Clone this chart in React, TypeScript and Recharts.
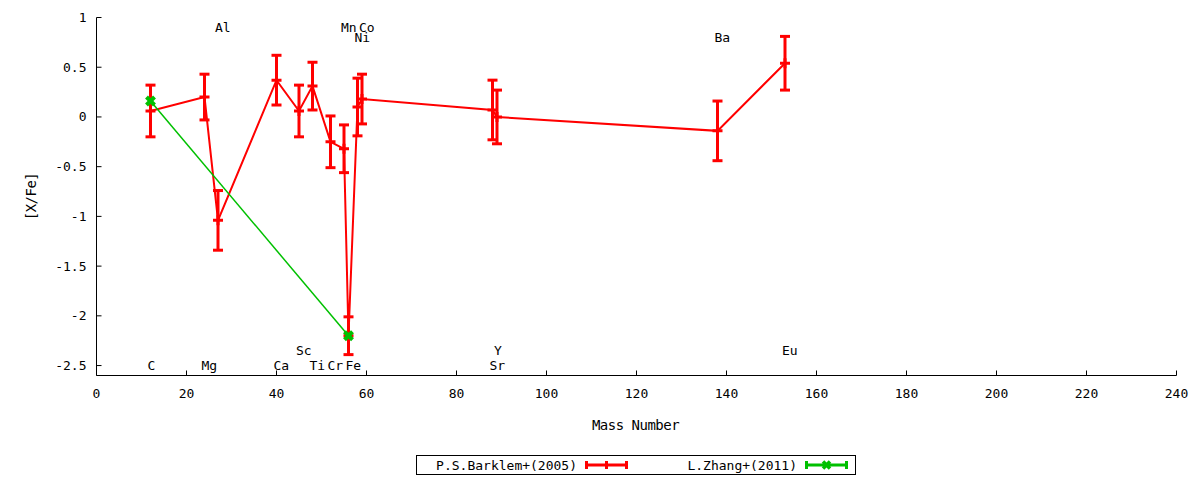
import React from 'react';
import { LineChart, Line, XAxis, YAxis, ErrorBar, Scatter, Legend } from 'recharts';

// Barklem et al. (2005), by mass number
const elements = ['C', 'Mg', 'Al', 'Ca', 'Sc', 'Ti', 'Cr', 'Mn', 'Fe', 'Ni', 'Co', 'Sr', 'Y', 'Ba', 'Eu'];
const massNumbers = [12, 24, 27, 40, 45, 48, 52, 55, 56, 58, 59, 88, 89, 138, 153];
const barklemValues = [0.06, 0.2, -1.04, 0.37, 0.06, 0.31, -0.25, -0.32, -2.2, 0.1, 0.18, 0.07, 0.0, -0.14, 0.54];
const barklemErrors = [0.26, 0.23, 0.3, 0.25, 0.26, 0.24, 0.26, 0.24, 0.19, 0.29, 0.25, 0.3, 0.27, 0.3, 0.27];

// L. Zhang et al. (2011)
const zhangElements = ['C', 'Fe'];
const zhangMasses = [12, 56];
const zhangValues = [0.16, -2.2];

// element labels and the row they sit in
const labelNames = ['C', 'Mg', 'Al', 'Ca', 'Sc', 'Ti', 'Cr', 'Mn', 'Fe', 'Co', 'Ni', 'Sr', 'Y', 'Ba', 'Eu'];
const labelMasses = [12, 24, 27, 40, 45, 48, 52, 55, 56, 59, 58, 88, 89, 138, 153];
const labelRows = ['b1', 'b1', 't1', 'b1', 'b2', 'b1', 'b1', 't1', 'b1', 't1', 't2', 'b1', 'b2', 't2', 'b2'];
const ROW_Y: Record<string, number> = { b1: -2.5, b2: -2.35, t1: 0.9, t2: 0.8 };

const xTicks = [0, 20, 40, 60, 80, 100, 120, 140, 160, 180, 200, 220, 240];
const yTicks = [-2.5, -2, -1.5, -1, -0.5, 0, 0.5, 1];

const seriesNames = ['P.S.Barklem+(2005)', 'L.Zhang+(2011)'];

const barklem = elements.map((el, i) => ({ el, mass: massNumbers[i], v: barklemValues[i], err: barklemErrors[i] }));
const zhang = zhangElements.map((el, i) => ({ el, mass: zhangMasses[i], v: zhangValues[i] }));
const labels = labelNames.map((name, i) => ({ name, mass: labelMasses[i], pos: ROW_Y[labelRows[i]] }));

const FONT = '"DejaVu Sans Mono", monospace';
const RED = '#ff0000';
const GREEN = '#00c000';
const TICK = 5;
const X_MARGIN = 13;
const Y_MARGIN = 10;

const BottomTick = (props: any) => {
  const { x, y, payload } = props;
  const axisY = y - X_MARGIN;
  return (
    <g>
      <line x1={x} y1={axisY} x2={x} y2={axisY - TICK} stroke="#000" />
      <text x={x} y={y} dy="0.71em" textAnchor="middle" fontFamily={FONT} fontSize={13} fill="#000">
        {payload.value}
      </text>
    </g>
  );
};

const TopTick = (props: any) => {
  const { x, y } = props;
  return <line x1={x} y1={y} x2={x} y2={y + TICK} stroke="#000" />;
};

const LeftTick = (props: any) => {
  const { x, y, payload } = props;
  const axisX = x + Y_MARGIN;
  return (
    <g>
      <line x1={axisX} y1={y} x2={axisX + TICK} y2={y} stroke="#000" />
      <text x={x} y={y} dy="0.35em" textAnchor="end" fontFamily={FONT} fontSize={13} fill="#000">
        {payload.value}
      </text>
    </g>
  );
};

const RightTick = (props: any) => {
  const { x, y } = props;
  return <line x1={x} y1={y} x2={x - TICK} y2={y} stroke="#000" />;
};

const PlusDot = (props: any) => {
  const { cx, cy, index } = props;
  if (cx == null || cy == null) return <g key={index} />;
  return (
    <g key={index}>
      <line x1={cx - 5} y1={cy} x2={cx + 5} y2={cy} stroke={RED} strokeWidth={3} />
      <line x1={cx} y1={cy - 5} x2={cx} y2={cy + 5} stroke={RED} strokeWidth={3} />
    </g>
  );
};

const CrossDot = (props: any) => {
  const { cx, cy, index } = props;
  if (cx == null || cy == null) return <g key={index} />;
  return (
    <g key={index}>
      <line x1={cx - 4} y1={cy - 4} x2={cx + 4} y2={cy + 4} stroke={GREEN} strokeWidth={4} />
      <line x1={cx - 4} y1={cy + 4} x2={cx + 4} y2={cy - 4} stroke={GREEN} strokeWidth={4} />
    </g>
  );
};

const ElementLabel = (props: any) => {
  const { cx, cy, payload } = props;
  return (
    <text x={cx} y={cy} dx={-3} dy="0.35em" textAnchor="start" fontFamily={FONT} fontSize={13} fill="#000">
      {payload.name}
    </text>
  );
};

const renderLegend = (props: any) => {
  const items = (props.payload || [])
    .filter((p: any) => seriesNames.includes(p.value))
    .sort((a: any, b: any) => seriesNames.indexOf(a.value) - seriesNames.indexOf(b.value));
  return (
    <svg width={440} height={20} style={{ display: 'block' }}>
      <rect x={0.5} y={0.5} width={439} height={19} fill="#fff" stroke="#000" />
      {items.map((item: any, i: number) => {
        const col = i * 220;
        const color = item.color;
        const s0 = col + 169;
        const s1 = col + 212;
        const mid = (s0 + s1) / 2;
        const plus = item.value === seriesNames[0];
        return (
          <g key={item.value}>
            <text x={col + 161} y={10} dy="0.35em" textAnchor="end" fontFamily={FONT} fontSize={13} fill="#000">
              {item.value}
            </text>
            <line x1={s0} y1={10} x2={s1} y2={10} stroke={color} strokeWidth={3} />
            <line x1={s0 + 1.5} y1={6} x2={s0 + 1.5} y2={14} stroke={color} strokeWidth={3} />
            <line x1={s1 - 1.5} y1={6} x2={s1 - 1.5} y2={14} stroke={color} strokeWidth={3} />
            {plus ? (
              <line x1={mid} y1={6} x2={mid} y2={14} stroke={color} strokeWidth={3} />
            ) : (
              <g>
                <line x1={mid - 3.5} y1={6.5} x2={mid + 3.5} y2={13.5} stroke={color} strokeWidth={3.5} />
                <line x1={mid - 3.5} y1={13.5} x2={mid + 3.5} y2={6.5} stroke={color} strokeWidth={3.5} />
              </g>
            )}
          </g>
        );
      })}
    </svg>
  );
};

export default function App() {
  return (
    <div style={{ position: 'absolute', left: 0, top: 0, width: 1200, height: 480, background: '#fff' }}>
      <LineChart
        width={1200}
        height={480}
        margin={{ top: 17.5, right: 23.5, bottom: 44.5, left: 0 }}
        style={{ fontFamily: FONT }}
      >
        <XAxis
          dataKey="mass"
          type="number"
          domain={[0, 240]}
          ticks={xTicks}
          allowDataOverflow
          height={60}
          stroke="#000"
          tickSize={0}
          tickMargin={X_MARGIN}
          tick={<BottomTick />}
          label={{
            content: (p: any) => (
              <text
                x={p.viewBox.x + p.viewBox.width / 2 - 1}
                y={p.viewBox.y + 50}
                dy="0.35em"
                textAnchor="middle"
                fontFamily={FONT}
                fontSize={14}
                letterSpacing={-0.5}
                fill="#000"
              >
                Mass Number
              </text>
            ),
          }}
        />
        <XAxis
          xAxisId="top"
          orientation="top"
          type="number"
          domain={[0, 240]}
          ticks={xTicks}
          allowDataOverflow
          height={0}
          stroke="#000"
          tickSize={0}
          tickMargin={0}
          tick={<TopTick />}
        />
        <YAxis
          type="number"
          domain={[-2.6, 1]}
          ticks={yTicks}
          allowDataOverflow
          width={96.5}
          stroke="#000"
          tickSize={0}
          tickMargin={Y_MARGIN}
          tick={<LeftTick />}
          label={{
            content: (p: any) => {
              const cx = p.viewBox.x + 31;
              const cy = p.viewBox.y + p.viewBox.height / 2;
              return (
                <text
                  x={cx}
                  y={cy}
                  dy="0.35em"
                  textAnchor="middle"
                  transform={`rotate(-90, ${cx}, ${cy})`}
                  fontFamily={FONT}
                  fontSize={14}
                  letterSpacing={-0.5}
                  fill="#000"
                >
                  [X/Fe]
                </text>
              );
            },
          }}
        />
        <YAxis
          yAxisId="right"
          orientation="right"
          type="number"
          domain={[-2.6, 1]}
          ticks={yTicks}
          allowDataOverflow
          width={0}
          stroke="#000"
          tickSize={0}
          tickMargin={0}
          tick={<RightTick />}
        />
        <Line
          data={barklem}
          dataKey="v"
          name={seriesNames[0]}
          type="linear"
          stroke={RED}
          strokeWidth={2}
          dot={PlusDot}
          activeDot={false}
          isAnimationActive={false}
        >
          <ErrorBar dataKey="err" direction="y" width={5} strokeWidth={3} stroke={RED} isAnimationActive={false} />
        </Line>
        <Line
          data={zhang}
          dataKey="v"
          name={seriesNames[1]}
          type="linear"
          stroke={GREEN}
          strokeWidth={1.5}
          dot={CrossDot}
          activeDot={false}
          isAnimationActive={false}
        />
        <Scatter data={labels} dataKey="pos" legendType="none" shape={<ElementLabel />} isAnimationActive={false} />
        <Legend
          layout="horizontal"
          verticalAlign="middle"
          align="center"
          content={renderLegend}
          wrapperStyle={{ left: 416, top: 455, width: 440, height: 20 }}
        />
      </LineChart>
    </div>
  );
}
